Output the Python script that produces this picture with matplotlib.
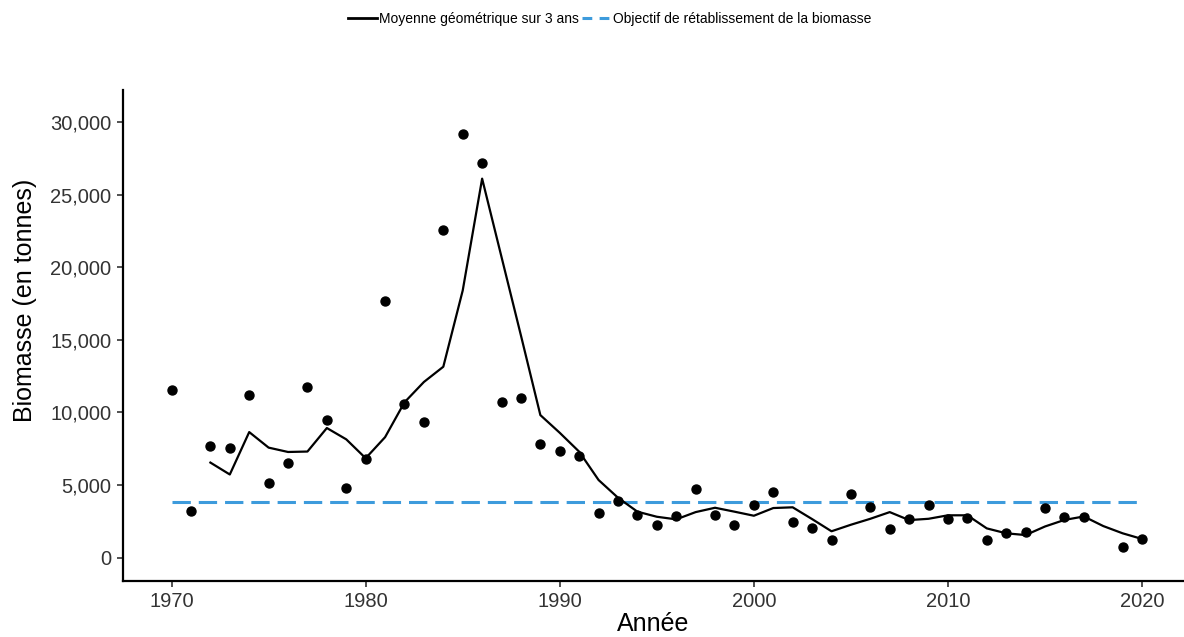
import numpy as np
import matplotlib.pyplot as plt
from matplotlib.lines import Line2D
from matplotlib.ticker import FuncFormatter

years = np.arange(1970, 2021)
biomass = [11550, 3200, 7720, 7530, 11230, 5120, 6490, 11730, 9450, 4770,
           6780, 17700, 10600, 9360, 22550, 29200, 27200, 10740, 11000, 7830,
           7320, 6990, 3100, 3900, 2920, 2250, 2890, 4700, 2920, 2250,
           3630, 4540, 2440, 2070, 1240, 4400, 3470, 2000, 2640, 3610,
           2640, 2750, 1230, 1680, 1740, 3390, 2800, 2770, np.nan, 760,
           1290]

geo_years = np.arange(1972, 2021)
geo_mean = [6550, 5730, 8650, 7580, 7280, 7310, 8930, 8150, 6850, 8300,
            10700, 12100, 13150, 18400, 26100, 20700, 15300, 9820, 8600, 7300,
            5350, 4130, 3170, 2820, 2640, 3140, 3440, 3170, 2890, 3420,
            3470, 2660, 1820, 2270, 2680, 3140, 2590, 2680, 2920, 2920,
            2020, 1680, 1560, 2150, 2600, 2840, 2180, 1680, 1290]

target = 3850
x_ticks = [1970, 1980, 1990, 2000, 2010, 2020]
y_ticks = [0, 5000, 10000, 15000, 20000, 25000, 30000]

blue = '#3D9BDC'
plt.rcParams['font.family'] = ['Liberation Sans', 'DejaVu Sans']

fig = plt.figure(figsize=(11.84, 6.37), dpi=100)
ax = fig.add_axes([0.1036, 0.088, 0.8954, 0.7706])

ax.scatter(years, biomass, s=42, color='black', zorder=3)
ax.plot(geo_years, geo_mean, color='black', lw=1.6, zorder=2)
ax.plot([years[0], years[-1]], [target, target], color=blue, lw=2.2,
        dashes=(6, 2.6), zorder=1)

ax.set_xlim(1967.48, 2022.1)
ax.set_ylim(-1600, 32200)
ax.set_xticks(x_ticks)
ax.set_yticks(y_ticks)
ax.yaxis.set_major_formatter(FuncFormatter(lambda v, p: f'{int(v):,}'))

for s in ['top', 'right']:
    ax.spines[s].set_visible(False)
for s in ['left', 'bottom']:
    ax.spines[s].set_linewidth(1.6)
ax.tick_params(axis='both', length=4, width=1.2, colors='#333333', labelsize=14.5, pad=4)

ax.set_xlabel('Année', fontsize=18, labelpad=1)
ax.set_ylabel('Biomasse (en tonnes)', fontsize=18, labelpad=8)
ax.yaxis.set_label_coords(-0.081, 0.572)

# legend handles drawn a bit shorter, as in the original key
h_line = Line2D([], [], color='black', lw=2)
h_dash = Line2D([], [], color=blue, lw=2.2, dashes=(3.2, 2.4))
fig.legend([h_line, h_dash],
           ['Moyenne géométrique sur 3 ans', 'Objectif de rétablissement de la biomasse'],
           loc='center', bbox_to_anchor=(0.515, 0.97), ncol=2, frameon=False,
           handlelength=2.1, handletextpad=0.15, columnspacing=0.25,
           prop={'size': 10})

fig.savefig('out.png', dpi=100)
